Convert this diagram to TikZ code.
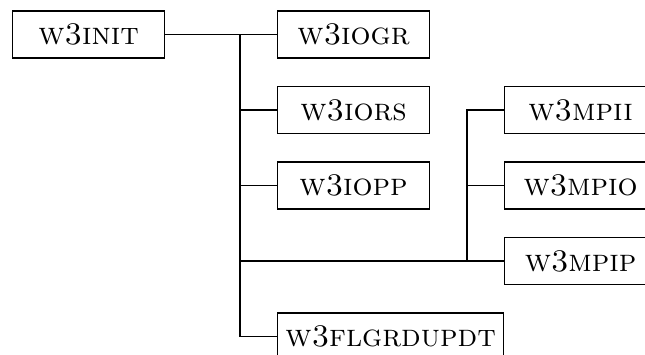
\documentclass[tikz,border=0pt]{standalone}
\usepackage{tikz}
\usetikzlibrary{positioning}

\newcommand{\routine}[1]{{\textsc{#1}}}

\tikzset{
  rbox/.style={draw, anchor=west, minimum width=152*0.318pt, minimum height=47*0.318pt, inner sep=2.5pt}
}

\begin{document}
\begin{tikzpicture}[x=0.318pt,y=0.318pt]
  \useasboundingbox (0,0) rectangle (645,-354);
  \clip (0,0) rectangle (645,-354);

  \node[rbox](init) at (12,-34.5) {\routine{w3init}};

  % first level
  \node[rbox](iogr) at (277,-34.5) {\routine{w3iogr}};
  \node[rbox](iors) at (277,-110) {\routine{w3iors}};
  \node[rbox](iopp) at (277,-185.5) {\routine{w3iopp}};
  \node[rbox](flgr) at (277,-336.5) {\routine{w3flgrdupdt}};

  % mpi branch
  \node[rbox](mpii) at (504,-110) {\routine{w3mpii}};
  \node[rbox](mpio) at (504,-185.5) {\routine{w3mpio}};
  \node[rbox](mpip) at (504,-261) {\routine{w3mpip}};

  \coordinate(trunk) at (240,-34.5);
  \coordinate(sub) at (467,-261);

  \draw (init.east) -- (iogr.west);
  \foreach \n in {iors,iopp,mpip,flgr}
    \draw (trunk) |- (\n.west);
  \foreach \n in {mpii,mpio}
    \draw (sub) |- (\n.west);

\end{tikzpicture}
\end{document}
